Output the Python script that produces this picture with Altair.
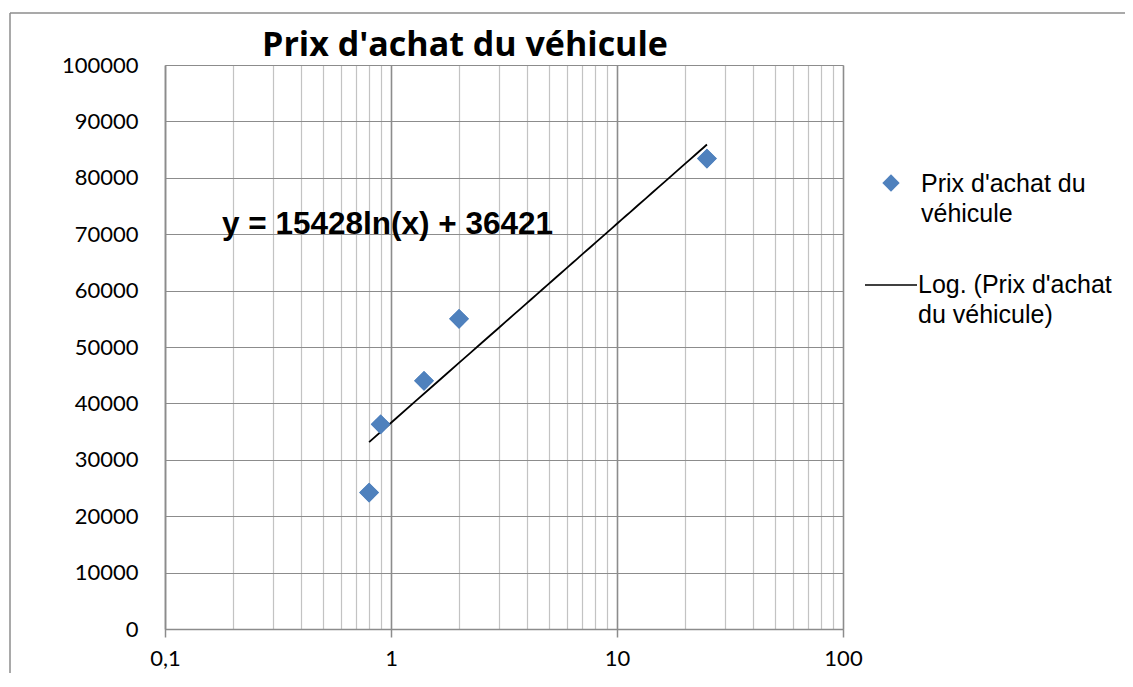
import altair as alt
import pandas as pd

# ---- data ----
x_vals = [0.8, 0.9, 1.4, 2.0, 25.0]
y_vals = [24200, 36300, 44000, 55000, 83400]

x_ticks = [0.1, 0.2, 0.3, 0.4, 0.5, 0.6, 0.7, 0.8, 0.9,
           1, 2, 3, 4, 5, 6, 7, 8, 9,
           10, 20, 30, 40, 50, 60, 70, 80, 90, 100]
y_ticks = [0, 10000, 20000, 30000, 40000, 50000, 60000, 70000, 80000, 90000, 100000]

title_text = "Prix d'achat du véhicule"
equation_text = "y = 15428ln(x) + 36421"
legend_points_lines = ["Prix d'achat du", "véhicule"]
legend_trend_lines = ["Log. (Prix d'achat", "du véhicule)"]

df = pd.DataFrame({"x": x_vals, "y": y_vals})
one = pd.DataFrame({"k": [0]})

W, H = 678, 564
LEFT, TOP = 157, 57
PX, PY = LEFT + 8, TOP + 8  # page position of the plot's top-left corner
GRID_MAJOR = "#8c8c8c"
GRID_MINOR = "#c3c3c3"
BLUE = "#4F81BD"

is_major = "abs(log(datum.value)/LN10 - round(log(datum.value)/LN10)) < 0.000001"

x_axis = alt.Axis(
    values=x_ticks,
    labelExpr=f"({is_major}) ? replace(toString(datum.value), '.', ',') : ''",
    gridColor={"condition": {"test": is_major, "value": GRID_MAJOR}, "value": GRID_MINOR},
    gridWidth={"condition": {"test": is_major, "value": 1.6}, "value": 1.2},
    tickOpacity={"condition": {"test": is_major, "value": 1}, "value": 0},
    tickSize=8, tickColor=GRID_MAJOR, tickWidth=1.5,
    domainColor=GRID_MAJOR, domainWidth=1.5,
    labelFont="Lato", labelFontSize=22, labelColor="black",
    labelPadding=11, labelOverlap=False, labelFlush=False, labelBound=False,
    title=None,
)
y_axis = alt.Axis(
    values=y_ticks, format="d",
    gridColor=GRID_MAJOR, gridWidth=1.2,
    ticks=False, domainColor=GRID_MAJOR, domainWidth=1.5,
    labelFont="Lato", labelFontSize=22, labelColor="black",
    labelPadding=27, labelOverlap=False, labelFlush=False, labelBound=False,
    title=None,
)

xs = alt.Scale(type="log", domain=[0.1, 100])
ys = alt.Scale(domain=[0, 100000])

points = alt.Chart(df).mark_point(
    shape="diamond", filled=True, size=390, color=BLUE, opacity=1
).encode(
    x=alt.X("x:Q", scale=xs, axis=x_axis),
    y=alt.Y("y:Q", scale=ys, axis=y_axis),
)

trend = alt.Chart(df).transform_regression(
    "x", "y", method="log"
).mark_line(color="black", strokeWidth=1.8).encode(
    x=alt.X("x:Q", scale=xs),
    y=alt.Y("y:Q", scale=ys),
)

title = alt.Chart(one).mark_text(
    text=title_text, font="Open Sans", fontWeight="bold", fontSize=34,
    align="center", baseline="alphabetic", color="black"
).encode(x=alt.value(465 - PX), y=alt.value(56 - PY))

equation = alt.Chart(one).mark_text(
    text=equation_text, font="Liberation Sans", fontWeight="bold", fontSize=31.5,
    align="left", baseline="middle", color="black"
).encode(x=alt.value(222 - PX), y=alt.value(225 - PY))

# ---- legend (drawn at the right of the plot) ----
leg_diamond = alt.Chart(one).mark_point(
    shape="diamond", filled=True, size=300, color=BLUE, opacity=1
).encode(x=alt.value(891 - PX), y=alt.value(183 - PY))

leg_line = alt.Chart(one).mark_rule(color="black", strokeWidth=1.6).encode(
    x=alt.value(865 - PX), x2=alt.value(917 - PX), y=alt.value(285 - PY)
)

legend_texts = []
for i, line in enumerate(legend_points_lines):
    legend_texts.append(alt.Chart(one).mark_text(
        text=line, font="Liberation Sans", fontSize=25, align="left",
        baseline="middle", color="black"
    ).encode(x=alt.value(921 - PX), y=alt.value(184 - PY + 29.5 * i)))
for i, line in enumerate(legend_trend_lines):
    legend_texts.append(alt.Chart(one).mark_text(
        text=line, font="Liberation Sans", fontSize=25, align="left",
        baseline="middle", color="black"
    ).encode(x=alt.value(918 - PX), y=alt.value(285 - PY + 29.5 * i)))

# ---- outer chart-area border (top and left edges visible) ----
border_top = alt.Chart(one).mark_rule(color="#8c8c8c", strokeWidth=1.5).encode(
    x=alt.value(10 - PX), x2=alt.value(1140 - PX), y=alt.value(13 - PY)
)
border_left = alt.Chart(one).mark_rule(color="#8c8c8c", strokeWidth=1.5).encode(
    x=alt.value(10 - PX), y=alt.value(13 - PY), y2=alt.value(700 - PY)
)

chart = alt.layer(
    points, trend, points, title, equation, leg_diamond, leg_line, *legend_texts,
    border_top, border_left,
).properties(
    width=W, height=H,
    autosize=alt.AutoSizeParams(type="none"),
    padding={"left": LEFT, "top": TOP, "right": 1117 - LEFT - W, "bottom": 671 - TOP - H - 6},
).configure_view(
    stroke=GRID_MAJOR, strokeWidth=1.5
).configure(background="white")

chart.save("out.html", embed_options={"renderer": "svg", "actions": False})
